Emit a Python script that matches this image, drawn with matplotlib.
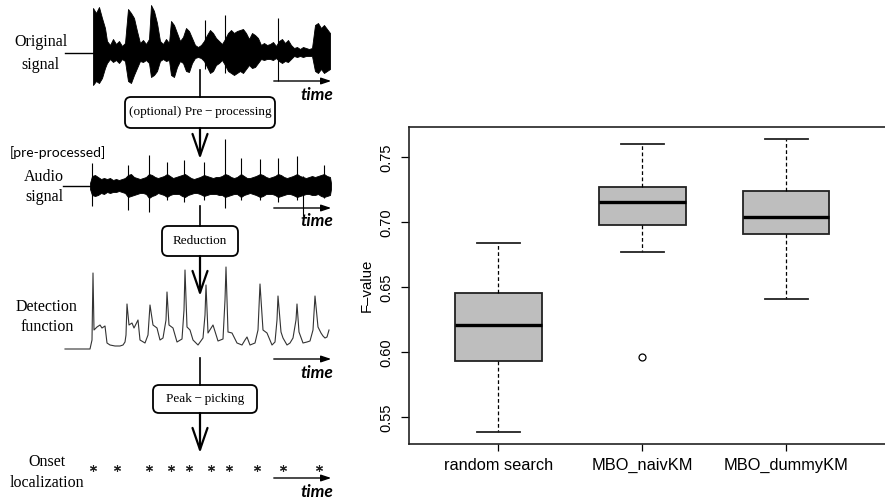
import matplotlib
matplotlib.use('Agg')
from matplotlib import pyplot as plt
from matplotlib.patches import FancyBboxPatch
import numpy as np

# ---------------- data: boxplot (F-value) ----------------
methods = ['random search', 'MBO_naivKM', 'MBO_dummyKM']
whislo = [0.5385, 0.677, 0.641]
q1 = [0.593, 0.6977, 0.6908]
med = [0.6212, 0.7154, 0.7044]
q3 = [0.6457, 0.7272, 0.7244]
whishi = [0.684, 0.760, 0.7643]
fliers = [[], [0.5964], []]
yticks = [0.55, 0.60, 0.65, 0.70, 0.75]

# ---------------- data: diagram signals (pixel units) ----------------
# original signal envelope: time, upper / lower amplitude
orig_t = [93, 96, 99, 102, 105, 107, 110, 113, 116, 119, 122, 125, 128, 131, 134, 137, 140, 143,
          146, 149, 151, 154, 157, 160, 163, 166, 169, 171, 174, 177, 180, 183, 186, 189, 192, 195,
          198, 201, 204, 207, 210, 213, 216, 219, 222, 225, 228, 231, 234, 237, 240, 243, 246, 249,
          252, 255, 258, 261, 264, 267, 270, 273, 276, 279, 282, 285, 288, 291, 294, 297, 300, 303,
          306, 309, 312, 315, 318, 321, 324, 327, 330]
orig_up = [45, 40, 46, 35, 25, 12, 8, 14, 9, 12, 7, 10, 44, 40, 35, 22, 10, 13,
           9, 14, 48, 42, 30, 12, 9, 14, 10, 32, 28, 20, 12, 16, 25, 22, 15, 8,
           6, 8, 12, 18, 23, 20, 15, 12, 9, 14, 20, 23, 20, 22, 23, 24, 20, 14,
           20, 18, 15, 8, 10, 8, 9, 11, 7, 12, 14, 10, 13, 8, 5, 6, 4, 6,
           5, 4, 5, 28, 30, 25, 28, 24, 20]
orig_dn = [32, 28, 30, 25, 15, 10, 6, 9, 7, 10, 6, 8, 28, 30, 22, 15, 8, 9,
           7, 10, 24, 22, 18, 8, 6, 8, 7, 22, 24, 14, 8, 10, 18, 19, 10, 5,
           4, 5, 8, 14, 20, 18, 12, 10, 7, 12, 18, 20, 22, 20, 18, 20, 16, 12,
           15, 14, 10, 6, 7, 6, 6, 7, 5, 8, 10, 8, 9, 6, 3, 4, 3, 4,
           3, 3, 3, 18, 20, 16, 20, 18, 16]
orig_spk_t = [205, 225, 278]
orig_spk_up = [33, 38, 35]
orig_spk_dn = [16, 20, 28]

# pre-processed audio signal envelope
aud_t = [90, 92, 95, 98, 101, 104, 107, 110, 113, 116, 119, 122, 125, 128, 131, 134, 137, 140,
         143, 146, 149, 152, 155, 158, 161, 164, 167, 170, 173, 176, 179, 182, 185, 188, 191, 194,
         197, 200, 204, 207, 210, 213, 216, 219, 222, 225, 228, 231, 234, 237, 241, 244, 247, 250,
         253, 256, 260, 263, 266, 269, 272, 275, 278, 281, 284, 287, 290, 293, 297, 300, 303, 306,
         309, 312, 315, 318, 321, 324, 327, 330, 331]
aud_up = [3, 10, 11, 9, 7, 8, 7, 8, 6, 7, 6, 7, 8, 11, 12, 9, 8, 7,
          8, 9, 12, 11, 9, 8, 9, 10, 12, 10, 8, 9, 10, 11, 12, 10, 8, 7,
          8, 9, 11, 10, 9, 8, 9, 9, 10, 12, 11, 9, 8, 9, 12, 10, 8, 8,
          9, 10, 12, 11, 9, 8, 9, 10, 12, 11, 9, 8, 9, 10, 12, 10, 9, 8,
          9, 10, 9, 10, 11, 12, 10, 9, 3]
aud_dn = [3, 9, 10, 9, 7, 8, 6, 7, 6, 6, 5, 6, 7, 11, 10, 9, 8, 7,
          7, 8, 12, 10, 9, 7, 8, 9, 11, 9, 8, 8, 8, 10, 11, 9, 8, 7,
          7, 8, 10, 9, 8, 8, 8, 9, 9, 11, 10, 9, 8, 8, 11, 9, 8, 7,
          8, 9, 11, 10, 8, 8, 8, 9, 11, 10, 9, 8, 8, 9, 11, 10, 9, 8,
          8, 9, 9, 8, 10, 11, 10, 9, 3]
aud_spk_t = [92, 128, 149, 167, 184, 204, 225, 241, 260, 278, 297, 303, 324]
aud_spk_up = [23, 21, 31, 24, 26, 24, 47, 28, 27, 28, 30, 10, 21]
aud_spk_dn = [20, 24, 26, 14, 16, 14, 22, 14, 14, 16, 14, 30, 12]

# detection function (height above its baseline)
det_t = [65, 90, 92, 93, 94, 97, 100, 102, 105, 107, 110, 115, 120, 123, 125, 126, 127, 129,
         132, 134, 136, 138, 140, 145, 148, 150, 153, 157, 160, 163, 166, 167, 169, 173, 177, 182,
         184, 185, 187, 190, 193, 198, 203, 205, 206, 208, 213, 218, 223, 225, 226, 228, 232, 237,
         242, 245, 247, 250, 255, 258, 260, 263, 267, 272, 275, 277, 278, 281, 283, 287, 290, 293,
         296, 297, 299, 303, 307, 310, 313, 315, 318, 321, 323, 325, 327, 329]
det_h = [0, 0, 9, 76, 19, 22, 24, 21, 23, 6, 4, 3, 3, 4, 7, 14, 45, 24,
         26, 21, 25, 29, 9, 6, 14, 44, 24, 21, 9, 11, 29, 57, 24, 21, 7, 10,
         39, 79, 22, 19, 9, 4, 11, 34, 64, 16, 24, 8, 10, 49, 82, 17, 16, 6,
         4, 9, 12, 4, 6, 19, 65, 19, 16, 4, 7, 29, 53, 17, 11, 4, 6, 11,
         29, 45, 17, 6, 7, 8, 19, 53, 22, 16, 13, 11, 12, 19]

# onset positions
onset_t = [93, 117, 149, 171, 189, 211, 229, 257, 283, 319]

# ---------------- figure ----------------
fig = plt.figure(figsize=(8.85, 5.0), dpi=100)

serif = ['Liberation Serif', 'DejaVu Serif']
sans_bi = ['Lato', 'DejaVu Sans']

axd = fig.add_axes([0, 0, 1, 1])
axd.set_xlim(0, 885)
axd.set_ylim(500, 0)
axd.axis('off')

# original signal
base1 = 53
axd.plot([65, 93], [base1, base1], color='black', lw=1)
axd.fill_between(orig_t, base1 - np.array(orig_up), base1 + np.array(orig_dn),
                 color='black', lw=0.6)
axd.vlines(orig_spk_t, base1 - np.array(orig_spk_up), base1 + np.array(orig_spk_dn),
           color='black', lw=0.8)

# audio signal
base2 = 186
axd.plot([63, 90], [base2, base2], color='black', lw=1)
axd.fill_between(aud_t, base2 - np.array(aud_up), base2 + np.array(aud_dn),
                 color='black', lw=0.6)
axd.vlines(aud_spk_t, base2 - np.array(aud_spk_up), base2 + np.array(aud_spk_dn),
           color='black', lw=0.8)

# detection function
base3 = 349
axd.plot(det_t, base3 - np.array(det_h), color='#333333', lw=0.8)

# onsets
axd.plot(onset_t, [468] * len(onset_t), ls='none', marker=(6, 2, 0),
         markersize=5, color='#222222', mew=0.8)

# time arrows
for ya, yt in [(81, 95), (208, 221), (359, 373), (478, 492)]:
    axd.annotate('', xy=(334, ya), xytext=(271, ya),
                 arrowprops=dict(arrowstyle='-|>,head_length=0.6,head_width=0.2',
                                 color='black', lw=1.0, mutation_scale=10))
    axd.text(333, yt, 'time', ha='right', va='center', fontsize=12.5,
             fontweight='bold', fontstyle='italic', family=sans_bi)

# labels
axd.text(41, 42, 'Original', ha='center', va='center', fontsize=11.5, family=serif)
axd.text(40, 65, 'signal', ha='center', va='center', fontsize=11.5, family=serif)
axd.text(58, 153, '[pre-processed]', ha='center', va='center', fontsize=10, family=['Lato', 'DejaVu Sans'])
axd.text(44, 177, 'Audio', ha='center', va='center', fontsize=11.5, family=serif)
axd.text(44, 197, 'signal', ha='center', va='center', fontsize=11.5, family=serif)
axd.text(47, 307, 'Detection', ha='center', va='center', fontsize=11.5, family=serif)
axd.text(47, 327, 'function', ha='center', va='center', fontsize=11.5, family=serif)
axd.text(47, 462, 'Onset', ha='center', va='center', fontsize=11.5, family=serif)
axd.text(47, 483, 'localization', ha='center', va='center', fontsize=11.5, family=serif)

# process boxes
boxes = [((125, 97, 150, 31), '(optional) Pre\u2009\u2212\u2009processing'),
         ((162, 226, 76, 30), 'Reduction'),
         ((153, 385, 104, 28), 'Peak\u2009\u2212\u2009picking')]
for (bx, by, bw, bh), label in boxes:
    p = FancyBboxPatch((bx, by), bw, bh, boxstyle='round,pad=0,rounding_size=6',
                       fc='white', ec='black', lw=1.3)
    axd.add_patch(p)
    axd.text(bx + bw / 2, by + bh / 2, label, ha='center', va='center',
             fontsize=9.5, family=serif)

# connectors
axd.plot([200, 200], [70, 97], color='black', lw=1.2)
axd.plot([200, 200], [206, 226], color='black', lw=1.2)
axd.plot([200, 200], [358, 385], color='black', lw=1.2)
for y0, y1 in [(128, 159), (256, 296), (413, 453)]:
    axd.annotate('', xy=(200, y1), xytext=(200, y0),
                 arrowprops=dict(arrowstyle='->,head_length=1.3,head_width=0.45',
                                 color='black', lw=1.6, mutation_scale=12,
                                 shrinkA=0, shrinkB=0))

# ---------------- boxplot ----------------
ax = fig.add_axes([409 / 885, 56 / 500, (900 - 409) / 885, 317 / 500])
stats = []
for i in range(len(methods)):
    stats.append(dict(whislo=whislo[i], q1=q1[i], med=med[i], q3=q3[i],
                      whishi=whishi[i], fliers=fliers[i]))
ax.bxp(stats, positions=[1, 2, 3], widths=0.6, capwidths=0.3, patch_artist=True,
       boxprops=dict(facecolor='#bebebe', edgecolor='#222222', lw=1.3),
       medianprops=dict(color='black', lw=2.4),
       whiskerprops=dict(color='black', lw=0.9, ls=(0, (3, 2))),
       capprops=dict(color='#222222', lw=1.3),
       flierprops=dict(marker='o', markersize=5, mfc='none', mec='black', mew=0.9))
ax.set_xlim(0.379, 3.79)
ax.set_ylim(0.5295, 0.7733)
ax.set_xticks([1, 2, 3])
ax.set_xticklabels(methods, fontsize=11.8, family=['Liberation Sans', 'DejaVu Sans'])
ax.set_yticks(yticks)
ax.set_yticklabels(['%.2f' % v for v in yticks], rotation=90, va='center',
                   fontsize=10.5, family=['Liberation Sans', 'DejaVu Sans'])
ax.tick_params(axis='x', length=5, pad=5, width=0.9)
ax.tick_params(axis='y', length=6, pad=5, width=0.9)
ax.set_ylabel('F\u2013value', fontsize=10.8, family=['Liberation Sans', 'DejaVu Sans'],
              labelpad=4)
for s in ax.spines.values():
    s.set_linewidth(1.2)
    s.set_color('#222222')

plt.savefig('out.png', dpi=100)
